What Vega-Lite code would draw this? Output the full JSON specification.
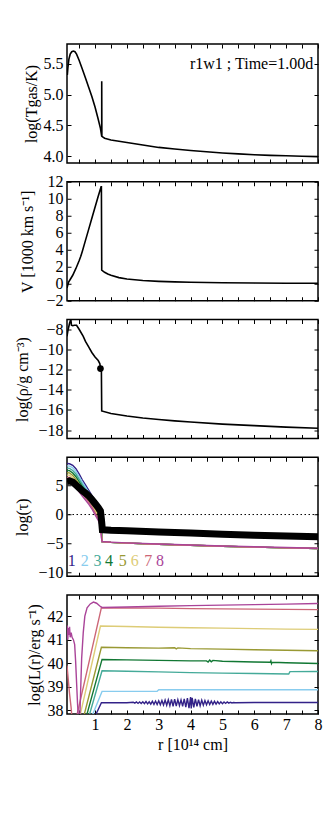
{
"$schema": "https://vega.github.io/schema/vega-lite/v6.json",
"background": "white",
"padding": {"left": 14, "top": 42, "right": 5, "bottom": 5},
"bounds": "flush",
"config": {
  "font": "Liberation Serif",
  "view": {"stroke": "black", "strokeWidth": 1.5},
  "axis": {"labelFont": "Liberation Serif", "titleFont": "Liberation Serif", "labelFontSize": 16, "titleFontSize": 16, "titleFontWeight": "normal", "labelColor": "black", "titleColor": "black", "tickColor": "black", "grid": false, "domain": false, "tickWidth": 1, "labelFlush": false, "labelOverlap": false},
  "text": {"font": "Liberation Serif"}
},
"datasets": {
  "tgas": [
    {"r":0.12,"v":5.40},{"r":0.13,"v":5.32},{"r":0.15,"v":5.45},{"r":0.18,"v":5.58},{"r":0.22,"v":5.66},{"r":0.27,"v":5.70},{"r":0.32,"v":5.71},{"r":0.37,"v":5.70},{"r":0.42,"v":5.66},{"r":0.5,"v":5.56},{"r":0.6,"v":5.42},{"r":0.7,"v":5.27},{"r":0.8,"v":5.12},{"r":0.9,"v":4.97},{"r":1.0,"v":4.80},{"r":1.1,"v":4.60},{"r":1.17,"v":4.45},{"r":1.21,"v":4.32},{"r":1.21,"v":5.22},{"r":1.215,"v":4.32},{"r":1.3,"v":4.29},{"r":1.5,"v":4.26},{"r":1.75,"v":4.24},{"r":2.0,"v":4.22},{"r":2.5,"v":4.18},{"r":3.0,"v":4.14},{"r":3.5,"v":4.115},{"r":4.0,"v":4.09},{"r":4.5,"v":4.07},{"r":5.0,"v":4.05},{"r":5.5,"v":4.035},{"r":6.0,"v":4.02},{"r":6.5,"v":4.01},{"r":7.0,"v":4.005},{"r":7.5,"v":3.995},{"r":8.0,"v":3.99}
  ],
  "vel": [
    {"r":0.12,"v":-0.5},{"r":0.14,"v":-0.2},{"r":0.17,"v":0.2},{"r":0.22,"v":0.5},{"r":0.3,"v":1.0},{"r":0.4,"v":1.8},{"r":0.5,"v":2.7},{"r":0.55,"v":3.2},{"r":0.6,"v":3.8},{"r":0.7,"v":5.1},{"r":0.8,"v":6.4},{"r":0.9,"v":7.7},{"r":1.0,"v":9.0},{"r":1.1,"v":10.3},{"r":1.19,"v":11.4},{"r":1.2,"v":11.4},{"r":1.21,"v":1.6},{"r":1.3,"v":1.35},{"r":1.4,"v":1.15},{"r":1.5,"v":1.0},{"r":1.75,"v":0.72},{"r":2.0,"v":0.55},{"r":2.5,"v":0.38},{"r":3.0,"v":0.28},{"r":3.5,"v":0.22},{"r":4.0,"v":0.18},{"r":5.0,"v":0.12},{"r":6.0,"v":0.08},{"r":7.0,"v":0.06},{"r":8.0,"v":0.05}
  ],
  "rho": [
    {"r":0.12,"v":-8.7},{"r":0.15,"v":-8.1},{"r":0.2,"v":-7.4},{"r":0.24,"v":-7.0},{"r":0.26,"v":-7.6},{"r":0.3,"v":-7.65},{"r":0.35,"v":-7.6},{"r":0.42,"v":-7.6},{"r":0.5,"v":-8.0},{"r":0.63,"v":-8.7},{"r":0.7,"v":-9.2},{"r":0.8,"v":-9.75},{"r":0.9,"v":-10.3},{"r":1.0,"v":-10.75},{"r":1.1,"v":-11.1},{"r":1.15,"v":-11.4},{"r":1.18,"v":-12.0},{"r":1.2,"v":-12.2},{"r":1.21,"v":-16.1},{"r":1.5,"v":-16.35},{"r":2.0,"v":-16.6},{"r":2.5,"v":-16.8},{"r":3.0,"v":-16.95},{"r":3.5,"v":-17.08},{"r":4.0,"v":-17.2},{"r":5.0,"v":-17.4},{"r":6.0,"v":-17.55},{"r":7.0,"v":-17.7},{"r":8.0,"v":-17.82}
  ],
  "tau": [
    {"s":"1","r":0.12,"v":8.8},{"s":"1","r":0.2,"v":8.75},{"s":"1","r":0.3,"v":8.5},{"s":"1","r":0.4,"v":7.9},{"s":"1","r":0.5,"v":7.0},{"s":"1","r":0.6,"v":6.0},{"s":"1","r":0.7,"v":5.1},{"s":"1","r":0.8,"v":4.2},{"s":"1","r":0.9,"v":3.3},{"s":"1","r":1.0,"v":2.4},{"s":"1","r":1.1,"v":1.5},{"s":"1","r":1.17,"v":0.8},{"s":"1","r":1.2,"v":-1.0},{"s":"1","r":1.22,"v":-4.65},{"s":"1","r":1.5,"v":-4.8},{"s":"1","r":2,"v":-4.93},{"s":"1","r":3,"v":-5.13},{"s":"1","r":4,"v":-5.3},{"s":"1","r":5,"v":-5.47},{"s":"1","r":6,"v":-5.61},{"s":"1","r":7,"v":-5.74},{"s":"1","r":8,"v":-5.85},
    {"s":"2","r":0.12,"v":8.4},{"s":"2","r":0.2,"v":8.36},{"s":"2","r":0.3,"v":8.06},{"s":"2","r":0.4,"v":7.44},{"s":"2","r":0.5,"v":6.56},{"s":"2","r":0.6,"v":5.6},{"s":"2","r":0.7,"v":4.73},{"s":"2","r":0.8,"v":3.86},{"s":"2","r":0.9,"v":2.97},{"s":"2","r":1.0,"v":2.06},{"s":"2","r":1.1,"v":1.14},{"s":"2","r":1.17,"v":0.4},{"s":"2","r":1.2,"v":-1.43},{"s":"2","r":1.22,"v":-4.65},{"s":"2","r":1.5,"v":-4.8},{"s":"2","r":2,"v":-4.93},{"s":"2","r":3,"v":-5.13},{"s":"2","r":4,"v":-5.3},{"s":"2","r":5,"v":-5.47},{"s":"2","r":6,"v":-5.61},{"s":"2","r":7,"v":-5.74},{"s":"2","r":8,"v":-5.85},
    {"s":"3","r":0.12,"v":8.0},{"s":"3","r":0.2,"v":7.96},{"s":"3","r":0.3,"v":7.61},{"s":"3","r":0.4,"v":6.99},{"s":"3","r":0.5,"v":6.11},{"s":"3","r":0.6,"v":5.2},{"s":"3","r":0.7,"v":4.36},{"s":"3","r":0.8,"v":3.51},{"s":"3","r":0.9,"v":2.64},{"s":"3","r":1.0,"v":1.71},{"s":"3","r":1.1,"v":0.79},{"s":"3","r":1.17,"v":0.0},{"s":"3","r":1.2,"v":-1.86},{"s":"3","r":1.22,"v":-4.65},{"s":"3","r":1.5,"v":-4.8},{"s":"3","r":2,"v":-4.93},{"s":"3","r":3,"v":-5.13},{"s":"3","r":4,"v":-5.3},{"s":"3","r":5,"v":-5.47},{"s":"3","r":6,"v":-5.61},{"s":"3","r":7,"v":-5.74},{"s":"3","r":8,"v":-5.85},
    {"s":"4","r":0.12,"v":7.6},{"s":"4","r":0.2,"v":7.57},{"s":"4","r":0.3,"v":7.17},{"s":"4","r":0.4,"v":6.53},{"s":"4","r":0.5,"v":5.67},{"s":"4","r":0.6,"v":4.8},{"s":"4","r":0.7,"v":3.99},{"s":"4","r":0.8,"v":3.17},{"s":"4","r":0.9,"v":2.31},{"s":"4","r":1.0,"v":1.37},{"s":"4","r":1.1,"v":0.43},{"s":"4","r":1.17,"v":-0.4},{"s":"4","r":1.2,"v":-2.29},{"s":"4","r":1.22,"v":-4.65},{"s":"4","r":1.5,"v":-4.8},{"s":"4","r":2,"v":-4.93},{"s":"4","r":3,"v":-5.13},{"s":"4","r":4,"v":-5.3},{"s":"4","r":5,"v":-5.47},{"s":"4","r":6,"v":-5.61},{"s":"4","r":7,"v":-5.74},{"s":"4","r":8,"v":-5.85},
    {"s":"5","r":0.12,"v":7.2},{"s":"5","r":0.2,"v":7.18},{"s":"5","r":0.3,"v":6.73},{"s":"5","r":0.4,"v":6.07},{"s":"5","r":0.5,"v":5.23},{"s":"5","r":0.6,"v":4.4},{"s":"5","r":0.7,"v":3.61},{"s":"5","r":0.8,"v":2.83},{"s":"5","r":0.9,"v":1.99},{"s":"5","r":1.0,"v":1.03},{"s":"5","r":1.1,"v":0.07},{"s":"5","r":1.17,"v":-0.8},{"s":"5","r":1.2,"v":-2.71},{"s":"5","r":1.22,"v":-4.65},{"s":"5","r":1.5,"v":-4.8},{"s":"5","r":2,"v":-4.93},{"s":"5","r":3,"v":-5.13},{"s":"5","r":4,"v":-5.3},{"s":"5","r":5,"v":-5.47},{"s":"5","r":6,"v":-5.61},{"s":"5","r":7,"v":-5.74},{"s":"5","r":8,"v":-5.85},
    {"s":"6","r":0.12,"v":6.8},{"s":"6","r":0.2,"v":6.79},{"s":"6","r":0.3,"v":6.29},{"s":"6","r":0.4,"v":5.61},{"s":"6","r":0.5,"v":4.79},{"s":"6","r":0.6,"v":4.0},{"s":"6","r":0.7,"v":3.24},{"s":"6","r":0.8,"v":2.49},{"s":"6","r":0.9,"v":1.66},{"s":"6","r":1.0,"v":0.69},{"s":"6","r":1.1,"v":-0.29},{"s":"6","r":1.17,"v":-1.2},{"s":"6","r":1.2,"v":-3.14},{"s":"6","r":1.22,"v":-4.65},{"s":"6","r":1.5,"v":-4.8},{"s":"6","r":2,"v":-4.93},{"s":"6","r":3,"v":-5.13},{"s":"6","r":4,"v":-5.3},{"s":"6","r":5,"v":-5.47},{"s":"6","r":6,"v":-5.61},{"s":"6","r":7,"v":-5.74},{"s":"6","r":8,"v":-5.85},
    {"s":"7","r":0.12,"v":6.4},{"s":"7","r":0.2,"v":6.39},{"s":"7","r":0.3,"v":5.84},{"s":"7","r":0.4,"v":5.16},{"s":"7","r":0.5,"v":4.34},{"s":"7","r":0.6,"v":3.6},{"s":"7","r":0.7,"v":2.87},{"s":"7","r":0.8,"v":2.14},{"s":"7","r":0.9,"v":1.33},{"s":"7","r":1.0,"v":0.34},{"s":"7","r":1.1,"v":-0.64},{"s":"7","r":1.17,"v":-1.6},{"s":"7","r":1.2,"v":-3.57},{"s":"7","r":1.22,"v":-4.65},{"s":"7","r":1.5,"v":-4.8},{"s":"7","r":2,"v":-4.93},{"s":"7","r":3,"v":-5.13},{"s":"7","r":4,"v":-5.3},{"s":"7","r":5,"v":-5.47},{"s":"7","r":6,"v":-5.61},{"s":"7","r":7,"v":-5.74},{"s":"7","r":8,"v":-5.85},
    {"s":"8","r":0.12,"v":6.0},{"s":"8","r":0.2,"v":6.0},{"s":"8","r":0.3,"v":5.4},{"s":"8","r":0.4,"v":4.7},{"s":"8","r":0.5,"v":3.9},{"s":"8","r":0.6,"v":3.2},{"s":"8","r":0.7,"v":2.5},{"s":"8","r":0.8,"v":1.8},{"s":"8","r":0.9,"v":1.0},{"s":"8","r":1.0,"v":0.0},{"s":"8","r":1.1,"v":-1.0},{"s":"8","r":1.17,"v":-2.0},{"s":"8","r":1.2,"v":-4.0},{"s":"8","r":1.22,"v":-4.65},{"s":"8","r":1.5,"v":-4.75},{"s":"8","r":2,"v":-4.88},{"s":"8","r":3,"v":-5.08},{"s":"8","r":4,"v":-5.25},{"s":"8","r":5,"v":-5.42},{"s":"8","r":6,"v":-5.56},{"s":"8","r":7,"v":-5.69},{"s":"8","r":8,"v":-5.8}
  ],
  "tauBlack": [
    {"r":0.12,"v":5.7},{"r":0.2,"v":5.8},{"r":0.3,"v":5.6},{"r":0.4,"v":5.1},{"r":0.5,"v":4.6},{"r":0.6,"v":4.1},{"r":0.7,"v":3.7},{"r":0.8,"v":3.2},{"r":0.9,"v":2.6},{"r":1.0,"v":1.9},{"r":1.1,"v":1.2},{"r":1.17,"v":0.6},{"r":1.2,"v":-0.8},{"r":1.23,"v":-2.6},{"r":1.5,"v":-2.7},{"r":2,"v":-2.8},{"r":3,"v":-3.0},{"r":4,"v":-3.2},{"r":5,"v":-3.4},{"r":6,"v":-3.55},{"r":7,"v":-3.7},{"r":8,"v":-3.85}
  ],
  "tauLabels": [
    {"s":"1","r":0.27,"v":-8.0},{"s":"2","r":0.68,"v":-8.0},{"s":"3","r":1.08,"v":-8.0},{"s":"4","r":1.44,"v":-8.0},{"s":"5","r":1.87,"v":-8.0},{"s":"6","r":2.25,"v":-8.0},{"s":"7","r":2.67,"v":-8.0},{"s":"8","r":3.04,"v":-8.0}
  ],
  "lum": [
    {"s":"1","r":0.95,"v":37.6},{"s":"1","r":1.2,"v":38.32},{"s":"1","r":2.0,"v":38.32},
    {"s":"1","r":2.2,"v":38.34},{"s":"1","r":2.25,"v":38.30},{"s":"1","r":2.3,"v":38.35},{"s":"1","r":2.35,"v":38.29},{"s":"1","r":2.4,"v":38.35},{"s":"1","r":2.45,"v":38.29},{"s":"1","r":2.5,"v":38.36},{"s":"1","r":2.55,"v":38.28},{"s":"1","r":2.6,"v":38.37},{"s":"1","r":2.65,"v":38.27},{"s":"1","r":2.7,"v":38.36},{"s":"1","r":2.75,"v":38.26},{"s":"1","r":2.8,"v":38.38},{"s":"1","r":2.85,"v":38.25},{"s":"1","r":2.9,"v":38.39},{"s":"1","r":2.95,"v":38.24},{"s":"1","r":3.0,"v":38.40},{"s":"1","r":3.05,"v":38.23},{"s":"1","r":3.1,"v":38.41},{"s":"1","r":3.15,"v":38.22},{"s":"1","r":3.2,"v":38.43},{"s":"1","r":3.25,"v":38.21},{"s":"1","r":3.3,"v":38.44},{"s":"1","r":3.35,"v":38.19},{"s":"1","r":3.4,"v":38.46},{"s":"1","r":3.45,"v":38.17},{"s":"1","r":3.5,"v":38.47},{"s":"1","r":3.55,"v":38.18},{"s":"1","r":3.6,"v":38.45},{"s":"1","r":3.65,"v":38.20},{"s":"1","r":3.7,"v":38.44},{"s":"1","r":3.75,"v":38.17},{"s":"1","r":3.8,"v":38.48},{"s":"1","r":3.85,"v":38.13},{"s":"1","r":3.9,"v":38.52},{"s":"1","r":3.95,"v":38.09},{"s":"1","r":4.0,"v":38.56},{"s":"1","r":4.02,"v":38.08},{"s":"1","r":4.05,"v":38.53},{"s":"1","r":4.1,"v":38.12},{"s":"1","r":4.15,"v":38.48},{"s":"1","r":4.2,"v":38.17},{"s":"1","r":4.25,"v":38.45},{"s":"1","r":4.3,"v":38.19},{"s":"1","r":4.35,"v":38.43},{"s":"1","r":4.4,"v":38.21},{"s":"1","r":4.45,"v":38.41},{"s":"1","r":4.5,"v":38.23},{"s":"1","r":4.55,"v":38.40},{"s":"1","r":4.6,"v":38.24},{"s":"1","r":4.65,"v":38.39},{"s":"1","r":4.7,"v":38.25},{"s":"1","r":4.75,"v":38.38},{"s":"1","r":4.8,"v":38.26},{"s":"1","r":4.85,"v":38.37},{"s":"1","r":4.9,"v":38.27},{"s":"1","r":4.95,"v":38.36},{"s":"1","r":5.0,"v":38.28},{"s":"1","r":5.05,"v":38.35},{"s":"1","r":5.1,"v":38.29},{"s":"1","r":5.15,"v":38.35},{"s":"1","r":5.2,"v":38.30},{"s":"1","r":5.25,"v":38.34},{"s":"1","r":5.3,"v":38.31},{"s":"1","r":5.35,"v":38.33},{"s":"1","r":5.4,"v":38.32},{"s":"1","r":6.0,"v":38.33},{"s":"1","r":7.0,"v":38.33},{"s":"1","r":8.0,"v":38.33},
    {"s":"2","r":0.86,"v":37.6},{"s":"2","r":1.22,"v":38.8},{"s":"2","r":2.0,"v":38.8},{"s":"2","r":2.95,"v":38.81},{"s":"2","r":3.0,"v":38.87},{"s":"2","r":4.0,"v":38.87},{"s":"2","r":5.0,"v":38.87},{"s":"2","r":6.0,"v":38.87},{"s":"2","r":7.0,"v":38.87},{"s":"2","r":8.0,"v":38.87},
    {"s":"3","r":0.78,"v":37.6},{"s":"3","r":1.22,"v":39.68},{"s":"3","r":2.0,"v":39.66},{"s":"3","r":3.0,"v":39.63},{"s":"3","r":4.0,"v":39.6},{"s":"3","r":5.0,"v":39.58},{"s":"3","r":6.0,"v":39.56},{"s":"3","r":7.08,"v":39.54},{"s":"3","r":7.12,"v":39.64},{"s":"3","r":8.0,"v":39.65},
    {"s":"4","r":0.7,"v":37.6},{"s":"4","r":1.22,"v":40.16},{"s":"4","r":2.0,"v":40.14},{"s":"4","r":3.0,"v":40.12},{"s":"4","r":4.0,"v":40.1},{"s":"4","r":4.5,"v":40.1},{"s":"4","r":4.55,"v":40.05},{"s":"4","r":4.6,"v":40.13},{"s":"4","r":4.65,"v":40.06},{"s":"4","r":4.7,"v":40.12},{"s":"4","r":5.0,"v":40.08},{"s":"4","r":6.0,"v":40.05},{"s":"4","r":6.5,"v":40.04},{"s":"4","r":6.52,"v":40.1},{"s":"4","r":6.54,"v":39.98},{"s":"4","r":6.56,"v":40.04},{"s":"4","r":7.0,"v":40.02},{"s":"4","r":8.0,"v":39.99},
    {"s":"5","r":0.62,"v":37.6},{"s":"5","r":1.2,"v":40.68},{"s":"5","r":2.0,"v":40.66},{"s":"5","r":3.0,"v":40.64},{"s":"5","r":3.5,"v":40.66},{"s":"5","r":3.55,"v":40.61},{"s":"5","r":3.6,"v":40.65},{"s":"5","r":4.0,"v":40.62},{"s":"5","r":5.0,"v":40.6},{"s":"5","r":6.0,"v":40.57},{"s":"5","r":7.0,"v":40.55},{"s":"5","r":8.0,"v":40.53},
    {"s":"6","r":0.5,"v":37.6},{"s":"6","r":1.17,"v":41.58},{"s":"6","r":2.0,"v":41.56},{"s":"6","r":3.0,"v":41.53},{"s":"6","r":4.0,"v":41.51},{"s":"6","r":5.0,"v":41.49},{"s":"6","r":6.0,"v":41.47},{"s":"6","r":7.0,"v":41.45},{"s":"6","r":8.0,"v":41.44},
    {"s":"7","r":0.12,"v":39.9},{"s":"7","r":0.16,"v":39.3},{"s":"7","r":0.2,"v":38.7},{"s":"7","r":0.25,"v":38.1},{"s":"7","r":0.28,"v":37.6},{"s":"7","r":0.4,"v":37.6},{"s":"7","r":1.2,"v":42.36},{"s":"7","r":2.0,"v":42.35},{"s":"7","r":3.0,"v":42.34},{"s":"7","r":4.0,"v":42.32},{"s":"7","r":5.0,"v":42.31},{"s":"7","r":6.0,"v":42.3},{"s":"7","r":7.0,"v":42.29},{"s":"7","r":8.0,"v":42.28},
    {"s":"8","r":0.12,"v":41.1},{"s":"8","r":0.13,"v":41.6},{"s":"8","r":0.145,"v":41.0},{"s":"8","r":0.16,"v":41.5},{"s":"8","r":0.18,"v":41.2},{"s":"8","r":0.2,"v":41.55},{"s":"8","r":0.22,"v":41.1},{"s":"8","r":0.25,"v":41.3},{"s":"8","r":0.28,"v":41.1},{"s":"8","r":0.32,"v":41.0},{"s":"8","r":0.36,"v":40.8},{"s":"8","r":0.39,"v":40.1},{"s":"8","r":0.42,"v":39.2},{"s":"8","r":0.45,"v":38.3},{"s":"8","r":0.48,"v":37.6},{"s":"8","r":0.52,"v":37.6},{"s":"8","r":0.55,"v":38.9},{"s":"8","r":0.58,"v":40.2},{"s":"8","r":0.63,"v":41.3},{"s":"8","r":0.68,"v":42.0},{"s":"8","r":0.75,"v":42.35},{"s":"8","r":0.85,"v":42.52},{"s":"8","r":0.95,"v":42.6},{"s":"8","r":1.05,"v":42.55},{"s":"8","r":1.15,"v":42.43},{"s":"8","r":1.22,"v":42.37},{"s":"8","r":2.0,"v":42.39},{"s":"8","r":3.0,"v":42.42},{"s":"8","r":4.0,"v":42.45},{"s":"8","r":5.0,"v":42.47},{"s":"8","r":6.0,"v":42.49},{"s":"8","r":7.0,"v":42.51},{"s":"8","r":8.0,"v":42.54}
  ]
},
"spacing": 18.75,
"vconcat": [
  {
    "width": 251, "height": 119,
    "layer": [
      {"data": {"name": "tgas"},
       "mark": {"type": "line", "color": "black", "strokeWidth": 1.6, "clip": true},
       "encoding": {
         "x": {"field": "r", "type": "quantitative", "scale": {"domain": [0.12, 8], "nice": false, "zero": false},
               "axis": {"orient": "bottom", "values": [0.5,1,1.5,2,2.5,3,3.5,4,4.5,5,5.5,6,6.5,7,7.5,8], "labels": false, "title": null, "offset": -4, "tickSize": 4}},
         "y": {"field": "v", "type": "quantitative", "scale": {"domain": [3.886, 5.826], "nice": false, "zero": false},
               "axis": {"orient": "left", "values": [4, 4.5, 5, 5.5], "format": ".1f", "title": "log(Tgas/K)", "offset": -4, "tickSize": 4, "labelPadding": 4, "titlePadding": 4}},
         "order": {"value": null}
       }},
      {"data": {"name": "tgas"},
       "mark": {"type": "line", "opacity": 0},
       "encoding": {
         "x": {"field": "r", "type": "quantitative", "axis": {"orient": "top", "values": [0.5,1,1.5,2,2.5,3,3.5,4,4.5,5,5.5,6,6.5,7,7.5,8], "labels": false, "title": null, "offset": -4, "tickSize": 4}},
         "y": {"field": "v", "type": "quantitative", "axis": {"orient": "right", "values": [4, 4.5, 5, 5.5], "labels": false, "title": null, "offset": -4, "tickSize": 4}}
       }},
      {"data": {"values": [{}]},
       "mark": {"type": "text", "align": "right", "baseline": "middle", "fontSize": 16, "color": "black"},
       "encoding": {
         "x": {"datum": 7.85, "type": "quantitative", "axis": null},
         "y": {"datum": 5.5, "type": "quantitative", "axis": null},
         "text": {"value": "r1w1 ; Time=1.00d"}
       }}
    ],
    "resolve": {"axis": {"x": "independent", "y": "independent"}}
  },
  {
    "width": 251, "height": 119,
    "layer": [
      {"data": {"name": "vel"},
       "mark": {"type": "line", "color": "black", "strokeWidth": 1.6, "clip": true},
       "encoding": {
         "x": {"field": "r", "type": "quantitative", "scale": {"domain": [0.12, 8], "nice": false, "zero": false},
               "axis": {"orient": "bottom", "values": [0.5,1,1.5,2,2.5,3,3.5,4,4.5,5,5.5,6,6.5,7,7.5,8], "labels": false, "title": null, "offset": -4, "tickSize": 4}},
         "y": {"field": "v", "type": "quantitative", "scale": {"domain": [-2, 12], "nice": false, "zero": false},
               "axis": {"orient": "left", "values": [-2, 0, 2, 4, 6, 8, 10, 12], "format": "d", "title": "V [1000 km s⁻¹]", "offset": -4, "tickSize": 4, "labelPadding": 4, "titlePadding": 10}},
         "order": {"value": null}
       }},
      {"data": {"name": "vel"},
       "mark": {"type": "line", "opacity": 0},
       "encoding": {
         "x": {"field": "r", "type": "quantitative", "axis": {"orient": "top", "values": [0.5,1,1.5,2,2.5,3,3.5,4,4.5,5,5.5,6,6.5,7,7.5,8], "labels": false, "title": null, "offset": -4, "tickSize": 4}},
         "y": {"field": "v", "type": "quantitative", "axis": {"orient": "right", "values": [-2, 0, 2, 4, 6, 8, 10, 12], "labels": false, "title": null, "offset": -4, "tickSize": 4}}
       }}
    ],
    "resolve": {"axis": {"x": "independent", "y": "independent"}}
  },
  {
    "width": 251, "height": 119,
    "layer": [
      {"data": {"name": "rho"},
       "mark": {"type": "line", "color": "black", "strokeWidth": 1.6, "clip": true},
       "encoding": {
         "x": {"field": "r", "type": "quantitative", "scale": {"domain": [0.12, 8], "nice": false, "zero": false},
               "axis": {"orient": "bottom", "values": [0.5,1,1.5,2,2.5,3,3.5,4,4.5,5,5.5,6,6.5,7,7.5,8], "labels": false, "title": null, "offset": -4, "tickSize": 4}},
         "y": {"field": "v", "type": "quantitative", "scale": {"domain": [-18.83, -7.03], "nice": false, "zero": false},
               "axis": {"orient": "left", "values": [-18, -16, -14, -12, -10, -8], "format": "d", "title": "log(ρ/g cm⁻³)", "offset": -4, "tickSize": 4, "labelPadding": 4, "titlePadding": 7}},
         "order": {"value": null}
       }},
      {"data": {"name": "rho"},
       "mark": {"type": "line", "opacity": 0},
       "encoding": {
         "x": {"field": "r", "type": "quantitative", "axis": {"orient": "top", "values": [0.5,1,1.5,2,2.5,3,3.5,4,4.5,5,5.5,6,6.5,7,7.5,8], "labels": false, "title": null, "offset": -4, "tickSize": 4}},
         "y": {"field": "v", "type": "quantitative", "axis": {"orient": "right", "values": [-18, -16, -14, -12, -10, -8], "labels": false, "title": null, "offset": -4, "tickSize": 4}}
       }},
      {"data": {"values": [{}]},
       "mark": {"type": "point", "filled": true, "color": "black", "size": 45, "opacity": 1},
       "encoding": {
         "x": {"datum": 1.17, "type": "quantitative", "axis": null},
         "y": {"datum": -11.9, "type": "quantitative", "axis": null}
       }}
    ],
    "resolve": {"axis": {"x": "independent", "y": "independent"}}
  },
  {
    "width": 251, "height": 119,
    "layer": [
      {"data": {"name": "tau"},
       "mark": {"type": "line", "strokeWidth": 1.4, "clip": true},
       "encoding": {
         "x": {"field": "r", "type": "quantitative", "scale": {"domain": [0.12, 8], "nice": false, "zero": false},
               "axis": {"orient": "bottom", "values": [0.5,1,1.5,2,2.5,3,3.5,4,4.5,5,5.5,6,6.5,7,7.5,8], "labels": false, "title": null, "offset": -4, "tickSize": 4}},
         "y": {"field": "v", "type": "quantitative", "scale": {"domain": [-10.64, 9.88], "nice": false, "zero": false},
               "axis": {"orient": "left", "values": [-10, -5, 0, 5], "format": "d", "title": "log(τ)", "offset": -4, "tickSize": 4, "labelPadding": 4, "titlePadding": 7}},
         "color": {"field": "s", "type": "nominal", "scale": {"domain": ["1","2","3","4","5","6","7","8"], "range": ["#332288","#88CCEE","#44AA99","#117733","#999933","#DDCC77","#CC6677","#AA4499"]}, "legend": null},
         "order": {"value": null}
       }},
      {"data": {"name": "tau"},
       "mark": {"type": "line", "opacity": 0},
       "encoding": {
         "x": {"field": "r", "type": "quantitative", "axis": {"orient": "top", "values": [0.5,1,1.5,2,2.5,3,3.5,4,4.5,5,5.5,6,6.5,7,7.5,8], "labels": false, "title": null, "offset": -4, "tickSize": 4}},
         "y": {"field": "v", "type": "quantitative", "axis": {"orient": "right", "values": [-10, -5, 0, 5], "labels": false, "title": null, "offset": -4, "tickSize": 4}}
       }},
      {"data": {"values": [{}]},
       "mark": {"type": "rule", "color": "black", "strokeWidth": 1, "strokeDash": [1.5, 2.5]},
       "encoding": {
         "y": {"datum": 0, "type": "quantitative", "axis": null}
       }},
      {"data": {"name": "tauBlack"},
       "mark": {"type": "line", "color": "black", "strokeWidth": 7, "clip": true},
       "encoding": {
         "x": {"field": "r", "type": "quantitative", "axis": null},
         "y": {"field": "v", "type": "quantitative", "axis": null},
         "order": {"value": null}
       }},
      {"data": {"name": "tauLabels"},
       "mark": {"type": "text", "fontSize": 16, "align": "center", "baseline": "middle"},
       "encoding": {
         "x": {"field": "r", "type": "quantitative", "axis": null},
         "y": {"field": "v", "type": "quantitative", "axis": null},
         "text": {"field": "s"},
         "color": {"field": "s", "type": "nominal", "legend": null}
       }}
    ],
    "resolve": {"axis": {"x": "independent", "y": "independent"}}
  },
  {
    "width": 251, "height": 119,
    "layer": [
      {"data": {"name": "lum"},
       "mark": {"type": "line", "strokeWidth": 1.4, "clip": true},
       "encoding": {
         "x": {"field": "r", "type": "quantitative", "scale": {"domain": [0.12, 8], "nice": false, "zero": false},
               "axis": {"orient": "bottom", "values": [0.5,1,1.5,2,2.5,3,3.5,4,4.5,5,5.5,6,6.5,7,7.5,8], "labelExpr": "datum.value % 1 === 0 ? datum.label : ''", "format": "~g", "title": "r [10¹⁴ cm]", "offset": -4, "tickSize": 4, "labelPadding": 2, "titlePadding": 4}},
         "y": {"field": "v", "type": "quantitative", "scale": {"domain": [37.84, 42.9], "nice": false, "zero": false},
               "axis": {"orient": "left", "values": [38, 39, 40, 41, 42], "format": "d", "title": "log(L(r)/erg s⁻¹)", "offset": -4, "tickSize": 4, "labelPadding": 4, "titlePadding": 5}},
         "color": {"field": "s", "type": "nominal", "scale": {"domain": ["1","2","3","4","5","6","7","8"], "range": ["#332288","#88CCEE","#44AA99","#117733","#999933","#DDCC77","#CC6677","#AA4499"]}, "legend": null},
         "order": {"value": null}
       }},
      {"data": {"name": "lum"},
       "mark": {"type": "line", "opacity": 0},
       "encoding": {
         "x": {"field": "r", "type": "quantitative", "axis": {"orient": "top", "values": [0.5,1,1.5,2,2.5,3,3.5,4,4.5,5,5.5,6,6.5,7,7.5,8], "labels": false, "title": null, "offset": -4, "tickSize": 4}},
         "y": {"field": "v", "type": "quantitative", "axis": {"orient": "right", "values": [38, 39, 40, 41, 42], "labels": false, "title": null, "offset": -4, "tickSize": 4}}
       }}
    ],
    "resolve": {"axis": {"x": "independent", "y": "independent"}}
  }
]
}
